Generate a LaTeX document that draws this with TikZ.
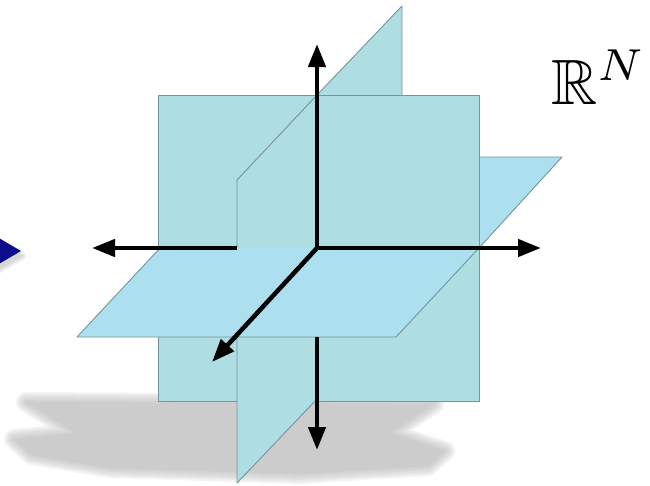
\documentclass[tikz,border=0pt]{standalone}
\usepackage{amssymb}
\usepackage{graphicx}
\usepackage{tikz}
\usetikzlibrary{arrows.meta}

\definecolor{sheetteal}{RGB}{174,221,226}
\definecolor{floorblue}{RGB}{172,224,238}
\definecolor{rimgray}{RGB}{118,148,154}
\definecolor{shadowgray}{RGB}{173,173,173}
\definecolor{pointerblue}{RGB}{12,12,140}

\begin{document}
\begin{tikzpicture}[
    x=1pt, y=-1pt,
    sheet/.style={fill=sheetteal},
    floor/.style={fill=floorblue},
    rim/.style={draw=rimgray, line width=0.9pt, line join=round},
    axis/.style={line width=4.5pt, -{Triangle[length=23pt, width=17pt]}},
    blur/.style={fill=shadowgray, draw=shadowgray, line join=round}
]
\useasboundingbox (0,0) rectangle (650,485);

% Origin and axis ends
\coordinate (O) at (317,248);
\coordinate (xpos) at (541,248);
\coordinate (xneg) at (92,248);
\coordinate (xnegstop) at (237,248);
\coordinate (ypos) at (317,44);
\coordinate (yneg) at (317,450);
\coordinate (ynegstart) at (317,337);
\coordinate (zpos) at (212,362);

% Back square
\coordinate (sqNW) at (158,95);
\coordinate (sqSE) at (479,401);

% Floor plane (split at the square)
\coordinate (hFL) at (77,337);
\coordinate (hFR) at (396,337);
\coordinate (hBR) at (562,157);
\coordinate (hBL) at (243,157);
\coordinate (hML) at (160,248);
\coordinate (hMR) at (479,248);

% Side plane (split at the square)
\coordinate (vFT) at (237,180);
\coordinate (vBT) at (402,6);
\coordinate (vBB) at (402,310);
\coordinate (vFB) at (237,483);
\coordinate (vMT) at (317,95);
\coordinate (vMB) at (317,399);

% Soft shadow under the planes
\foreach \w in {20,16,12,8,4,0.1}{
  \begin{scope}[transparency group, opacity=0.15]
    \filldraw[blur, line width=\w pt]
      (26,402) -- (434,404) -- (390,433) -- (445,451) -- (428,466) -- (300,474)
      -- (110,468) -- (32,455) -- (14,439) -- (76,433) -- cycle;
  \end{scope}
}

% Pointer from the left
\coordinate (pTop) at (-8,234);
\coordinate (pTip) at (21,251);
\coordinate (pBot) at (-8,268);
\foreach \w in {8,4,0.1}{
  \begin{scope}[transparency group, opacity=0.2]
    \filldraw[blur, line width=\w pt] (-8,240) -- (22,256) -- (-8,273) -- cycle;
  \end{scope}
}
\fill[pointerblue] (pTop) -- (pTip) -- (pBot) -- cycle;

% Back half of the side plane
\fill[sheet] (vMT) -- (vBT) -- (vBB) -- (vMB) -- cycle;
\draw[rim] (vMT) -- (vBT) -- (vBB) -- (vMB);

% Back half of the floor plane
\fill[floor] (hML) -- (hBL) -- (hBR) -- (hMR) -- cycle;
\draw[rim] (hML) -- (hBL) -- (hBR) -- (hMR);

% Square
\filldraw[sheet, rim] (sqNW) rectangle (sqSE);

% Front half of the side plane
\fill[sheet] (vMT) -- (vFT) -- (vFB) -- (vMB) -- cycle;
\draw[rim] (vMT) -- (vFT) -- (vFB) -- (vMB);

% Front half of the floor plane
\fill[floor] (hML) -- (hFL) -- (hFR) -- (hMR) -- cycle;
\draw[rim] (hML) -- (hFL) -- (hFR) -- (hMR);

% Axes
\draw[axis] (xnegstop) -- (xneg);
\draw[axis] (O) -- (xpos);
\draw[axis] (O) -- (ypos);
\draw[axis] (ynegstart) -- (yneg);
\draw[axis] (O) -- (zpos);

% Space label
\node[anchor=base west, inner sep=0pt] (space) at (551,104) {\scalebox{6.4}{$\mathbb{R}^N$}};
\end{tikzpicture}
\end{document}
